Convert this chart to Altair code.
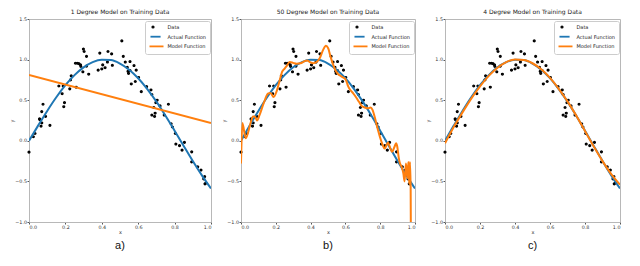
import altair as alt
import pandas as pd

# training data
data_x = [0.0, 0.024, 0.033, 0.058, 0.06, 0.066, 0.07, 0.07, 0.077, 0.091, 0.115,
          0.164, 0.182, 0.188, 0.191, 0.195, 0.224, 0.228, 0.232, 0.259, 0.255,
          0.265, 0.274, 0.283, 0.285, 0.299, 0.303, 0.296, 0.316, 0.316, 0.328,
          0.38, 0.389, 0.40, 0.405, 0.418, 0.431, 0.434, 0.454, 0.458, 0.51,
          0.518, 0.529, 0.54, 0.544, 0.547, 0.555, 0.555, 0.562, 0.577, 0.584,
          0.589, 0.602, 0.617, 0.646, 0.67, 0.675, 0.675, 0.686, 0.69, 0.693,
          0.697, 0.704, 0.72, 0.743, 0.766, 0.781, 0.788, 0.804, 0.807, 0.827,
          0.841, 0.854, 0.894, 0.894, 0.927, 0.945, 0.96, 0.965, 0.967, 0.973]
data_y = [-0.14, 0.05, 0.09, 0.27, 0.26, 0.18, 0.22, 0.36, 0.45, 0.30, 0.19,
          0.675, 0.58, 0.675, 0.42, 0.47, 0.64, 0.75, 0.80, 0.66, 0.955,
          0.955, 0.95, 0.935, 0.915, 1.13, 1.10, 0.85, 1.04, 0.92, 0.82,
          0.87, 1.08, 0.885, 0.935, 0.90, 0.97, 1.10, 1.07, 0.93, 1.23,
          1.04, 0.97, 0.905, 0.856, 0.83, 0.865, 0.976, 0.70, 0.927, 0.73,
          0.87, 0.78, 0.605, 0.667, 0.626, 0.57, 0.317, 0.41, 0.30, 0.34,
          0.47, 0.50, 0.43, 0.317, 0.45, 0.21, 0.17, 0.09, -0.04, -0.06,
          -0.115, -0.02, -0.136, -0.26, -0.32, -0.36, -0.47, -0.44, -0.53, -0.52]

# actual function
act_x = [0.0, 0.05, 0.1, 0.15, 0.2, 0.25, 0.3, 0.35, 0.4, 0.45, 0.5,
         0.55, 0.6, 0.65, 0.7, 0.75, 0.8, 0.85, 0.9, 0.95, 1.0]
act_y = [0.0, 0.187, 0.368, 0.536, 0.685, 0.809, 0.905, 0.969, 0.998, 0.994, 0.951,
         0.876, 0.771, 0.637, 0.482, 0.309, 0.125, -0.063, -0.249, -0.426, -0.588]

# 1 degree model
m1_x = [0.0, 1.0]
m1_y = [0.81, 0.22]

# 50 degree model
m50_x = [0.0, 0.008, 0.027, 0.054, 0.069, 0.08, 0.092, 0.107, 0.13, 0.155, 0.169,
         0.188, 0.203, 0.223, 0.236, 0.251, 0.265, 0.28, 0.30, 0.319, 0.342,
         0.361, 0.38, 0.399, 0.415, 0.434, 0.453, 0.472, 0.488, 0.501, 0.514,
         0.53, 0.545, 0.559, 0.572, 0.587, 0.603, 0.616, 0.63, 0.645, 0.66,
         0.678, 0.693, 0.712, 0.731, 0.745, 0.756, 0.77, 0.785, 0.798, 0.814,
         0.825, 0.833, 0.845, 0.856, 0.868, 0.883, 0.891, 0.898, 0.906, 0.914,
         0.923, 0.933, 0.94, 0.948, 0.956, 0.962, 0.967, 0.971, 0.975, 0.978]
m50_y = [-0.28, 0.22, 0.03, 0.21, 0.30, 0.30, 0.25, 0.32, 0.46, 0.58, 0.59,
         0.54, 0.60, 0.75, 0.85, 0.89, 0.93, 0.97, 0.96, 0.95, 0.955,
         0.975, 0.99, 0.965, 0.955, 0.97, 1.02, 1.12, 1.17, 1.14, 1.04,
         0.935, 0.86, 0.82, 0.80, 0.78, 0.75, 0.67, 0.62, 0.585, 0.54,
         0.48, 0.43, 0.41, 0.40, 0.41, 0.38, 0.28, 0.15, 0.05, -0.05,
         -0.095, -0.07, -0.02, -0.08, -0.135, -0.07, -0.03, -0.07, -0.20, -0.28,
         -0.32, -0.40, -0.50, -0.28, -0.46, -0.26, -0.53, -0.26, -0.57, -2.0]

# 4 degree model
m4_x = act_x
m4_y = [-0.03, 0.17, 0.35, 0.52, 0.67, 0.80, 0.90, 0.97, 1.0, 0.995, 0.955,
        0.88, 0.775, 0.64, 0.485, 0.31, 0.12, -0.07, -0.25, -0.41, -0.54]

titles = ["1 Degree Model on Training Data", "50 Degree Model on Training Data",
          "4 Degree Model on Training Data"]
labels = ["a)", "b)", "c)"]
models = [(m1_x, m1_y), (m50_x, m50_y), (m4_x, m4_y)]
widths = [182, 174, 175]
H = 203

series = ["Data", "Actual Function", "Model Function"]
colors = ["#000000", "#1f77b4", "#ff7f0e"]
LINE_SHAPE = "M-1,0H3"

pts_df = pd.DataFrame({"x": data_x, "y": data_y, "series": "Data"})
act_df = pd.DataFrame({"x": act_x, "y": act_y, "series": "Actual Function"})

FONT = "DejaVu Sans"


def panel(i):
    mx, my = models[i]
    mdf = pd.DataFrame({"x": mx, "y": my, "series": "Model Function"})
    w = widths[i]
    xenc = alt.X("x:Q", scale=alt.Scale(domain=[0, 1], nice=False, zero=False),
                 axis=alt.Axis(values=[0, 0.2, 0.4, 0.6, 0.8, 1.0], format=".1f", title="x"))
    yenc = alt.Y("y:Q", scale=alt.Scale(domain=[-1, 1.5], nice=False, zero=False),
                 axis=alt.Axis(values=[-1, -0.5, 0, 0.5, 1.0, 1.5], format=".1f", title="y"))
    cscale = alt.Scale(domain=series, range=colors)
    pts = alt.Chart(pts_df).mark_point(filled=False, strokeWidth=1.7, opacity=1).encode(
        x=xenc, y=yenc,
        color=alt.Color("series:N", scale=cscale, title=None),
        shape=alt.Shape("series:N", scale=alt.Scale(domain=series, range=["circle", LINE_SHAPE, LINE_SHAPE]), title=None),
        size=alt.Size("series:N", scale=alt.Scale(domain=series, range=[2, 49, 49]), title=None),
    )
    lines_df = pd.concat([act_df, mdf], ignore_index=True)
    lines = alt.Chart(lines_df).mark_line(strokeWidth=2, clip=True, interpolate="monotone").encode(
        x=xenc, y=yenc,
        color=alt.Color("series:N", scale=cscale, title=None),
    )
    lab = alt.Chart(pd.DataFrame({"t": [labels[i]]})).mark_text(
        font="Liberation Sans", fontSize=11, color="#111", baseline="middle"
    ).encode(text="t:N", x=alt.value(w / 2), y=alt.value(H + 24))
    return alt.layer(pts, lines, lab).properties(
        width=w, height=H,
        title=alt.Title(titles[i], fontSize=6, fontWeight="normal", font=FONT, color="#222", offset=1),
    )


chart = alt.hconcat(panel(0), panel(1), panel(2), spacing=8).resolve_scale(
    color="independent", shape="independent", size="independent"
).resolve_legend(
    color="independent", shape="independent", size="independent"
).configure(
    padding={"left": 0, "top": 0, "right": 0, "bottom": 0},
).configure_view(
    stroke="#b8b8b8", strokeWidth=1,
).configure_axis(
    labelFont=FONT, titleFont=FONT, labelFontSize=4.8, titleFontSize=5,
    titleFontWeight="normal", labelColor="#333", titleColor="#333",
    domainColor="#b8b8b8", tickColor="#555", tickSize=2, grid=False,
    labelPadding=0.5, titlePadding=0.5,
).configure_legend(
    orient="top-right", labelFont=FONT, labelFontSize=5, labelColor="#222",
    strokeColor="#cccccc", fillColor="white", padding=3.5, cornerRadius=2,
    symbolStrokeWidth=1.8, rowPadding=0.7, offset=1.5, labelOffset=10,
)

chart.save("out.html", embed_options={"renderer": "svg", "actions": False})
